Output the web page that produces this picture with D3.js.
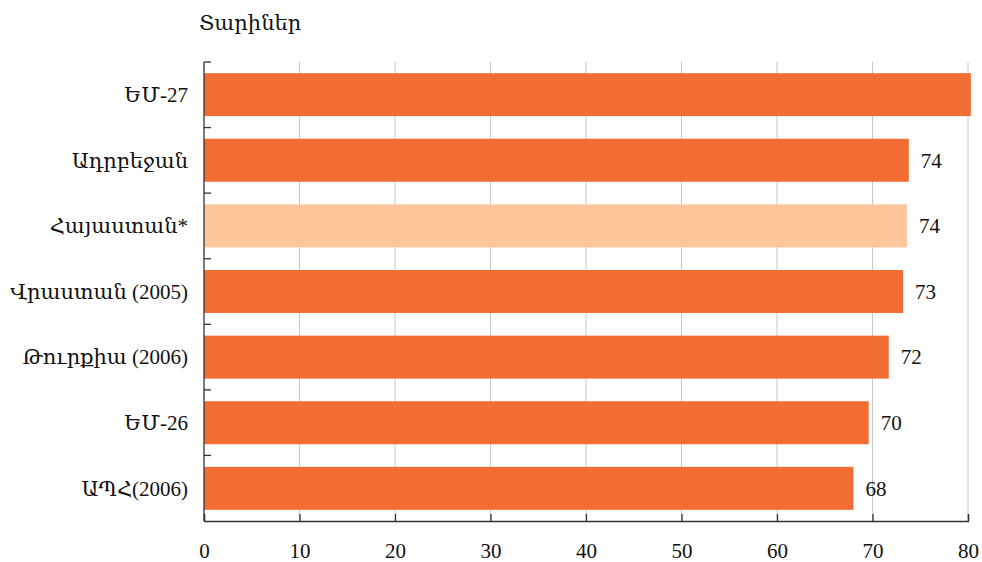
<!DOCTYPE html>
<html>
<head>
<meta charset="utf-8">
<script src="https://cdn.jsdelivr.net/npm/d3@7"></script>
<style>
  html, body { margin: 0; padding: 0; background: #fff; }
  svg { display: block; }
  text { font-family: "Liberation Serif", "DejaVu Serif", serif; fill: #111; }
</style>
</head>
<body>
<svg id="chart" width="982" height="562"></svg>
<script>
const categories = ["ԵՄ-27", "Ադրբեջան", "Հայաստան*", "Վրաստան (2005)", "Թուրքիա (2006)", "ԵՄ-26", "ԱՊՀ(2006)"];
const values = [80.3, 73.8, 73.6, 73.2, 71.7, 69.6, 68.0];
const valueLabels = ["", "74", "74", "73", "72", "70", "68"];
const highlighted = ["Հայաստան*"];
const xTicks = [0, 10, 20, 30, 40, 50, 60, 70, 80];
const axisTitle = "Տարիներ";

const svg = d3.select("#chart");
const margin = { left: 204, top: 62, right: 14, bottom: 41 };
const W = 982, H = 562;
const innerW = 968 - margin.left;
const innerH = 521 - margin.top;

const g = svg.append("g").attr("transform", `translate(${margin.left},${margin.top})`);

const x = d3.scaleLinear().domain([0, 80]).range([0, innerW]);
const y = d3.scaleBand().domain(categories).range([0, innerH]).paddingInner(0.345).paddingOuter(0.17);

// gridlines
g.selectAll("line.grid").data(xTicks.filter(t => t > 0)).enter().append("line")
  .attr("class", "grid")
  .attr("x1", d => x(d)).attr("x2", d => x(d))
  .attr("y1", 0).attr("y2", innerH)
  .attr("stroke", "#c8c8c8").attr("stroke-width", 1);

// bars
g.selectAll("rect.bar").data(categories).enter().append("rect")
  .attr("class", "bar")
  .attr("x", x(0))
  .attr("y", d => y(d))
  .attr("height", y.bandwidth())
  .attr("width", (d, i) => x(values[i]) - x(0))
  .attr("fill", d => highlighted.includes(d) ? "#fcc59a" : "#f26d34");

// value labels
g.selectAll("text.val").data(categories).enter().append("text")
  .attr("class", "val")
  .attr("x", (d, i) => x(values[i]) + 12)
  .attr("y", d => y(d) + y.bandwidth() / 2)
  .attr("dy", "0.35em")
  .attr("font-size", 21)
  .text((d, i) => valueLabels[i]);

// y axis line and ticks at band boundaries
const step = innerH / categories.length;
g.append("line").attr("x1", 0).attr("x2", 0).attr("y1", 0).attr("y2", innerH)
  .attr("stroke", "#333").attr("stroke-width", 1.3);
g.selectAll("line.ytick").data(d3.range(categories.length)).enter().append("line")
  .attr("class", "ytick")
  .attr("x1", 0).attr("x2", 7)
  .attr("y1", d => d * step).attr("y2", d => d * step)
  .attr("stroke", "#333").attr("stroke-width", 1.3);

// category labels
g.selectAll("text.cat").data(categories).enter().append("text")
  .attr("class", "cat")
  .attr("x", -16)
  .attr("y", d => y(d) + y.bandwidth() / 2)
  .attr("dy", "0.35em")
  .attr("text-anchor", "end")
  .attr("font-size", 21)
  .text(d => d);

// x axis
const xAxis = d3.axisBottom(x).tickValues(xTicks).tickSize(-7).tickPadding(22).tickFormat(d3.format("d"));
const xa = g.append("g").attr("transform", `translate(0,${innerH})`).call(xAxis);
xa.select(".domain").attr("stroke", "#333").attr("stroke-width", 1.3);
xa.selectAll(".tick line").attr("stroke", "#333").attr("stroke-width", 1.3);
xa.selectAll(".tick text").attr("font-size", 21).attr("fill", "#111")
  .attr("font-family", "'Liberation Serif', 'DejaVu Serif', serif");

// axis title
svg.append("text").attr("x", 199).attr("y", 30).attr("font-size", 21).text(axisTitle);
</script>
</body>
</html>
